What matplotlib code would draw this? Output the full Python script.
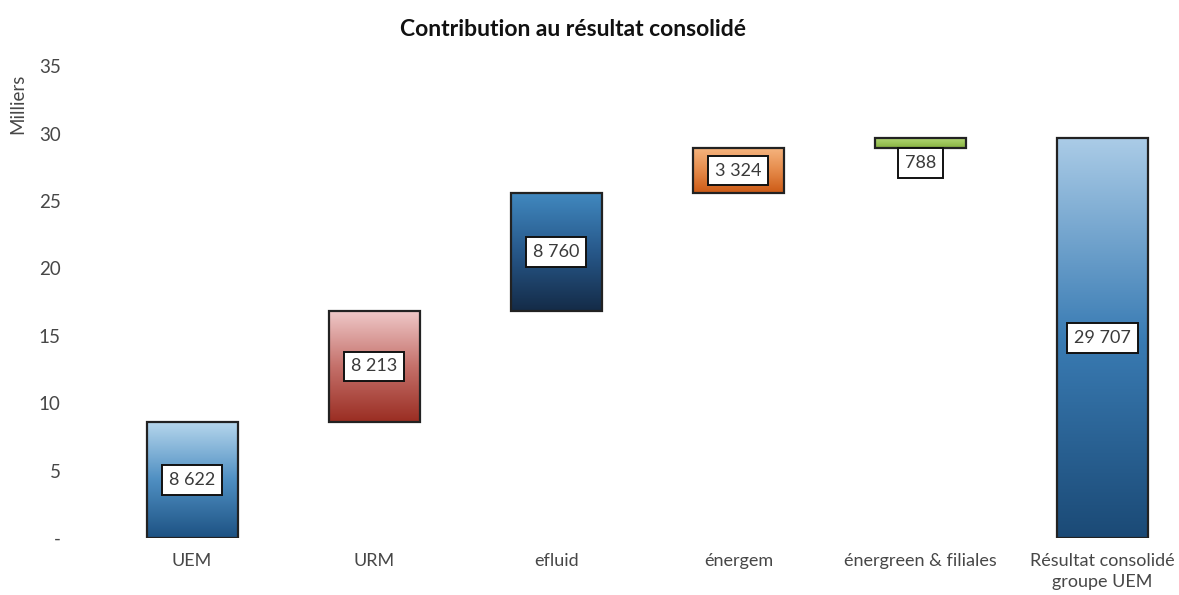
import numpy as np
import matplotlib
matplotlib.use("Agg")
import matplotlib.pyplot as plt
from matplotlib.patches import Rectangle
from matplotlib.colors import LinearSegmentedColormap

plt.rcParams['font.family'] = ['Lato', 'DejaVu Sans']

# -------------------------------------------------
# Données (en euros, affichées en milliers)
# -------------------------------------------------
categories = ['UEM', 'URM', 'efluid', 'énergem', 'énergreen & filiales',
              'Résultat consolidé\ngroupe UEM']
contributions = [8622, 8213, 8760, 3324, 788]
total = 29707

# couleurs des dégradés (bas, milieu, haut)
gradients = [('#1d5283', '#4f8fc2', '#b7d7ed'),
             ('#9a2d22', '#c4706a', '#efc8c8'),
             ('#142b47', '#27588a', '#4189c0'),
             ('#cc5a15', '#e58a4a', '#f5b47e'),
             ('#86b040', '#9fc75c', '#b4d77a'),
             ('#1b4a76', '#3a7cb4', '#abcce7')]

# bases et hauteurs de la cascade
bases = list(np.concatenate([[0], np.cumsum(contributions)[:-1]])) + [0]
heights = contributions + [total]

fig = plt.figure(figsize=(11.79, 5.95), dpi=100)
ax = fig.add_axes([0.0857, 0.0958, 0.9143, 0.793])
ax.set_xlim(-0.5, 5.42)
ax.set_ylim(0, 35)

width = 0.5
for i, (b, h) in enumerate(zip(bases, heights)):
    b_k, h_k = b / 1000, h / 1000
    cmap = LinearSegmentedColormap.from_list('g%d' % i, list(gradients[i]))
    grad = np.linspace(0, 1, 256).reshape(-1, 1)
    x0 = i - width / 2
    im = ax.imshow(grad, cmap=cmap, origin='lower', aspect='auto',
                   extent=[x0, x0 + width, b_k, b_k + h_k], zorder=2)
    rect = Rectangle((x0, b_k), width, h_k, fill=False, ec='#222222',
                     lw=1.6, zorder=3)
    ax.add_patch(rect)
    im.set_clip_path(rect)

    label = f"{h:,}".replace(",", " ")
    y_lab = b_k + h_k / 2
    if h_k < 1.5 and i == 4:
        y_lab = b_k - 1.1
    ax.text(i, y_lab, label, ha='center', va='center', fontsize=13,
            color='#3a3a3a', zorder=4,
            bbox=dict(boxstyle='square,pad=0.38', fc='white', ec='#111111', lw=1.4))

ax.set_xticks(range(len(categories)))
ax.set_xticklabels(categories, fontsize=13, color='#474747', linespacing=1.35)
ax.set_yticks(np.arange(0, 36, 5))
ax.set_yticklabels(['-'] + [str(v) for v in range(5, 36, 5)], fontsize=13.5, color='#474747')
ax.tick_params(axis='both', length=0)
ax.tick_params(axis='y', pad=29)
ax.tick_params(axis='x', pad=11)
for s in ax.spines.values():
    s.set_visible(False)

fig.text(18 / 1179, 1 - 104 / 595, 'Milliers', rotation=90, ha='center', va='center',
         fontsize=13.5, color='#474747')
fig.text(573 / 1179, 1 - 30 / 595, 'Contribution au résultat consolidé', ha='center',
         va='center', fontsize=16.5, fontweight='bold', color='#111111')

fig.savefig('out.png', dpi=100)
